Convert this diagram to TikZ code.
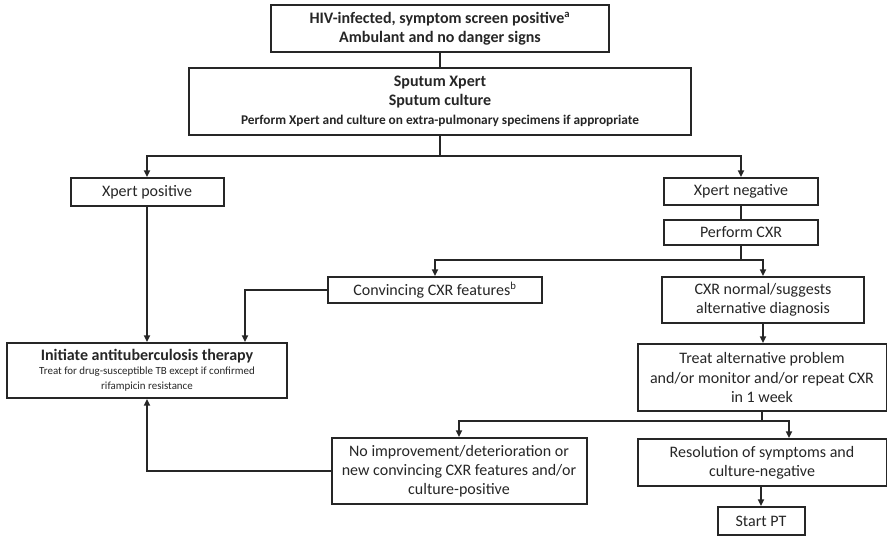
\documentclass[tikz,border=0pt]{standalone}
\usepackage{fontspec}
\setmainfont{Carlito}
\usepackage{tikz}
\usetikzlibrary{arrows.meta,positioning,calc}

\newcommand{\bigtxt}{\fontsize{12}{14.3}\selectfont}
\newcommand{\smalltxt}{\fontsize{8.2}{10.5}\selectfont}

\begin{document}
\begin{tikzpicture}[x=0.75pt, y=-0.75pt,
        box/.style = {draw=black!85, line width=1.5pt, fill=white, inner sep=0pt,
                      align=center, text=black!85, font=\bigtxt},
        arr/.style = {draw=black!85, line width=1.3pt, -{Triangle[length=5pt,width=4.5pt]}},
        ln/.style  = {draw=black!85, line width=1.3pt}]
    \useasboundingbox (0,0) rectangle (887,536);
    \node [box, minimum width=338*0.75pt, minimum height=47*0.75pt] (hiv) at (440,28.5)
        {\textbf{HIV-infected, symptom screen positive\textsuperscript{a}}\\ \textbf{Ambulant and no danger signs}};
    \node [box, minimum width=502*0.75pt, minimum height=67*0.75pt] (sputum) at (440,101.5)
        {\textbf{Sputum Xpert}\\ \textbf{Sputum culture}\\
         {\fontsize{10}{13.5}\selectfont\bfseries Perform Xpert and culture on extra-pulmonary specimens if appropriate}};
    \node [box, minimum width=153*0.75pt, minimum height=28*0.75pt] (xpos) at (147,192) {Xpert positive};
    \node [box, minimum width=154*0.75pt, minimum height=27*0.75pt] (xneg) at (741,191.5) {Xpert negative};
    \node [box, minimum width=154*0.75pt, minimum height=25*0.75pt] (cxr) at (741,232.5) {Perform CXR};
    \node [box, minimum width=214*0.75pt, minimum height=26*0.75pt] (conv) at (435,290)
        {Convincing CXR features\textsuperscript{b}};
    \node [box, minimum width=202*0.75pt, minimum height=46*0.75pt] (normal) at (763,300)
        {CXR normal/suggests\\ alternative diagnosis};
    \node [box, minimum width=280*0.75pt, minimum height=55*0.75pt] (init) at (147,370.5)
        {\textbf{Initiate antituberculosis therapy}\\[-4pt]
         {\smalltxt Treat for drug-susceptible TB except if confirmed}\\[-3pt] {\smalltxt rifampicin resistance}};
    \node [box, minimum width=249*0.75pt, minimum height=67*0.75pt] (treat) at (762,377.5)
        {Treat alternative problem\\ and/or monitor and/or repeat CXR\\ in 1 week};
    \node [box, minimum width=255*0.75pt, minimum height=66*0.75pt] (noimp) at (459,471)
        {No improvement/deterioration or\\ new convincing CXR features and/or\\ culture-positive};
    \node [box, minimum width=249*0.75pt, minimum height=47*0.75pt] (resol) at (762,462.5)
        {Resolution of symptoms and\\ culture-negative};
    \node [box, minimum width=87*0.75pt, minimum height=28*0.75pt] (startpt) at (761,521) {Start PT};

    \draw [ln] (hiv.south) -- (hiv.south |- sputum.north);
    \draw [ln] (sputum.south) -- ++(0,20) coordinate (j1);
    \draw [arr] (j1) -| (xpos.north);
    \draw [arr] (j1) -| (xneg.north);
    \draw [arr] (xpos.south) -- (xpos.south |- init.north);
    \draw [ln] (xneg.south) -- (cxr.north);
    \draw [ln] (cxr.south) -- ++(0,14) coordinate (j2);
    \draw [arr] (j2) -| (conv.north);
    \draw [arr] (j2) -| (normal.north);
    \draw [arr] (conv.west) -| ($(init.north east)+(-43,0)$);
    \draw [arr] (normal.south) -- (normal.south |- treat.north);
    \draw [ln] (treat.south) -- ++(0,9) coordinate (j3);
    \draw [arr] (j3) -| (noimp.north);
    \draw [arr] (j3) -| ($(resol.north)+(27,0)$);
    \draw [arr] (noimp.west) -| (init.south);
    \draw [arr] (startpt.north |- resol.south) -- (startpt.north);
\end{tikzpicture}
\end{document}
